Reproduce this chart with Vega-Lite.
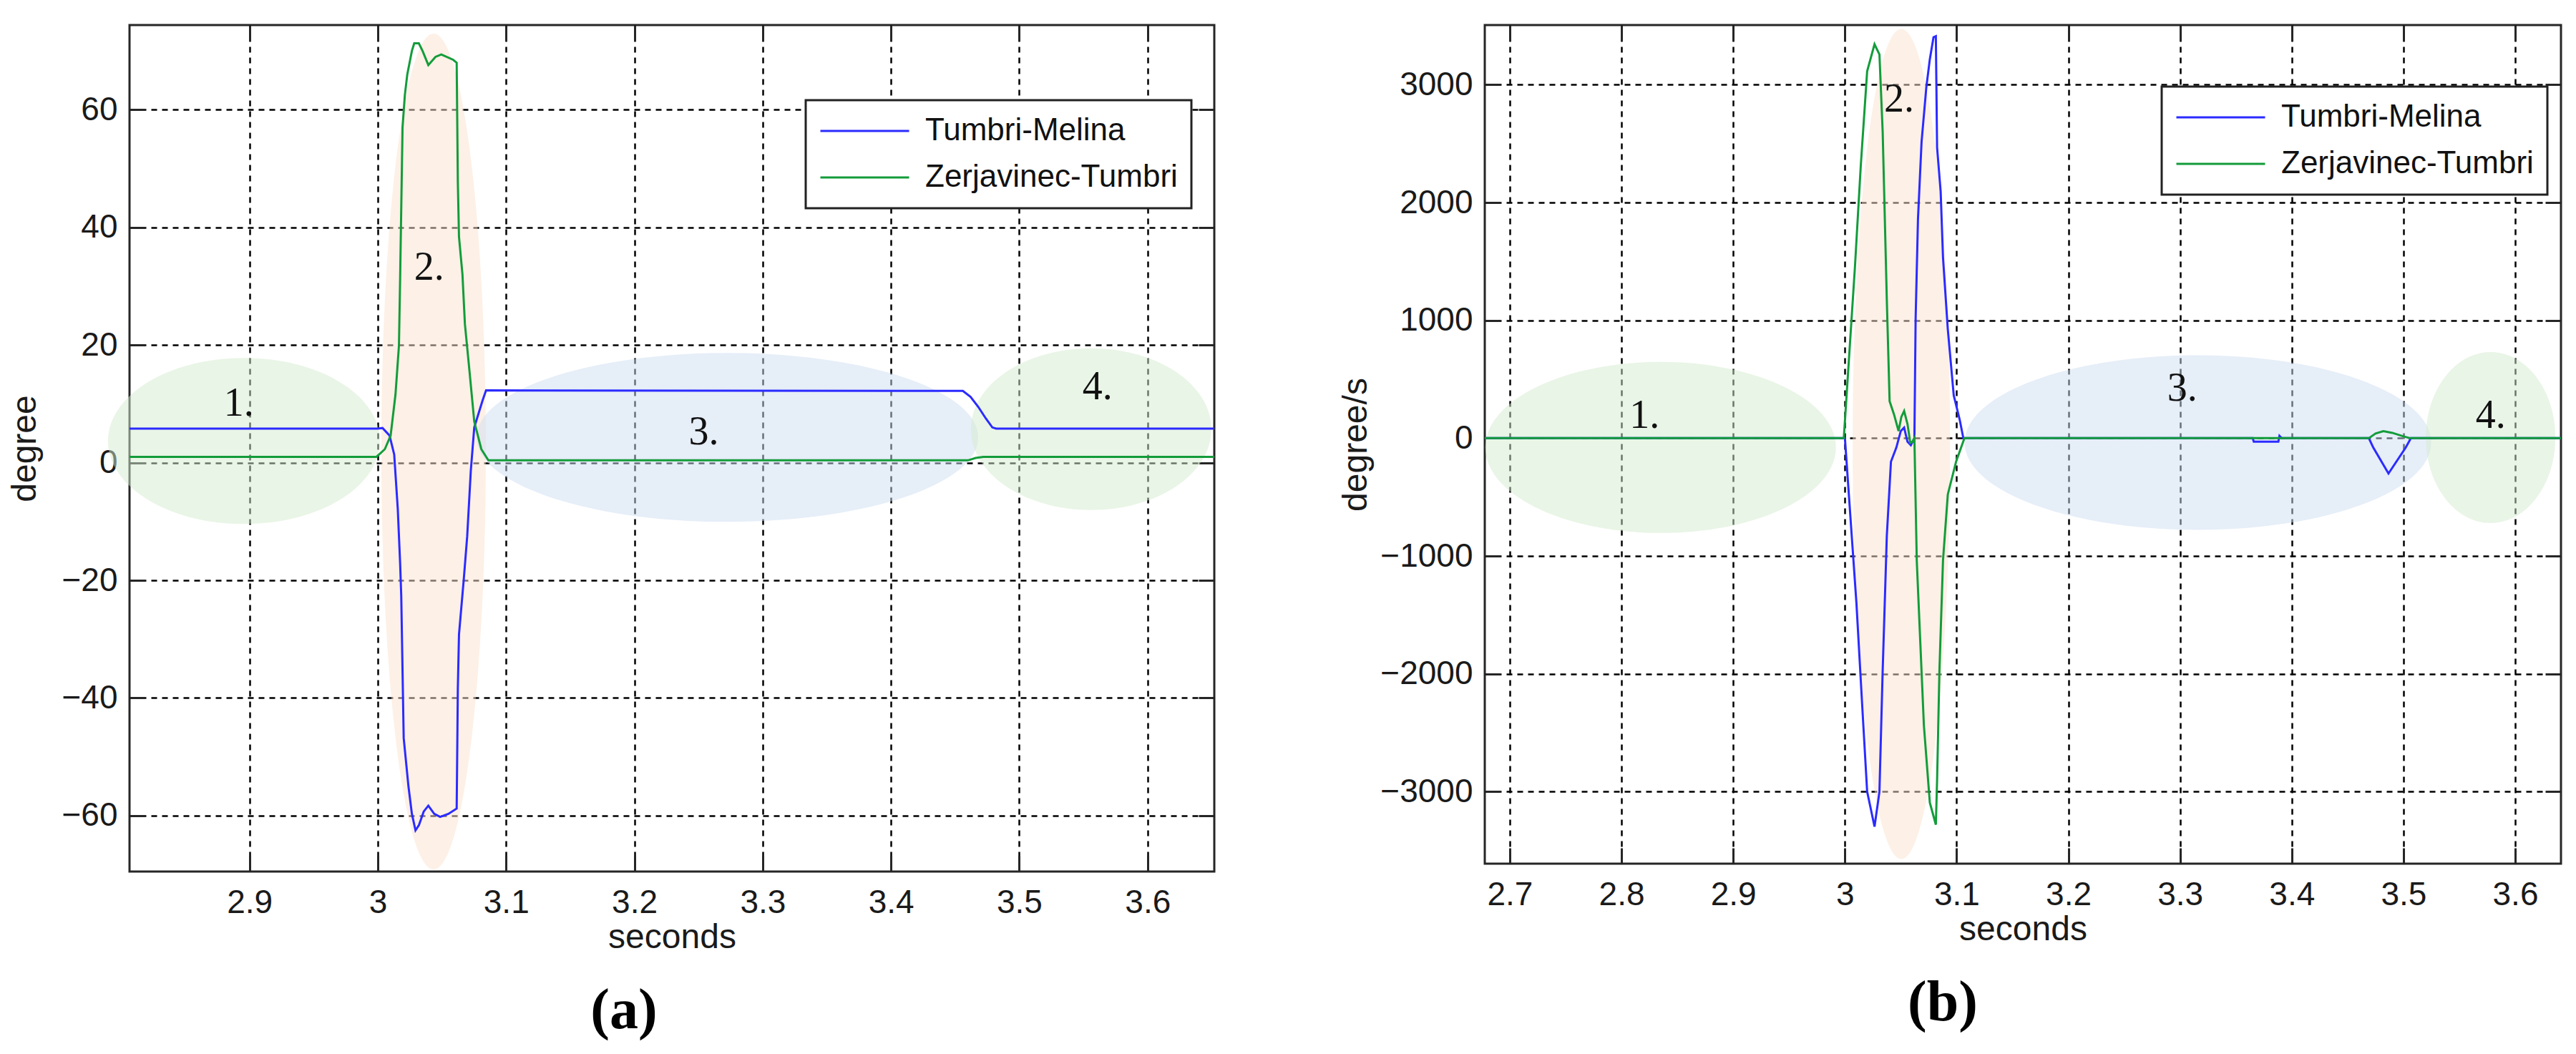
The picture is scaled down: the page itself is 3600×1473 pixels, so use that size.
{
  "$schema": "https://vega.github.io/schema/vega-lite/v6.json",
  "background": "white",
  "padding": {"left": 10, "top": 32, "right": 0, "bottom": 0},
  "spacing": 170,
  "resolve": {"scale": {"color": "independent"}, "legend": {"color": "independent"}},
  "datasets": {
    "angle": [
      {"s": "Tumbri-Melina", "t": 2.80, "v": 5.8},
      {"s": "Tumbri-Melina", "t": 3.000, "v": 5.8},
      {"s": "Tumbri-Melina", "t": 3.0037, "v": 5.9},
      {"s": "Tumbri-Melina", "t": 3.0092, "v": 4.6},
      {"s": "Tumbri-Melina", "t": 3.0128, "v": 1.4},
      {"s": "Tumbri-Melina", "t": 3.0156, "v": -7.9},
      {"s": "Tumbri-Melina", "t": 3.0174, "v": -17},
      {"s": "Tumbri-Melina", "t": 3.0183, "v": -22.7},
      {"s": "Tumbri-Melina", "t": 3.0202, "v": -46.8},
      {"s": "Tumbri-Melina", "t": 3.0239, "v": -55},
      {"s": "Tumbri-Melina", "t": 3.0266, "v": -59.7},
      {"s": "Tumbri-Melina", "t": 3.0294, "v": -62.5},
      {"s": "Tumbri-Melina", "t": 3.0321, "v": -61.6},
      {"s": "Tumbri-Melina", "t": 3.0358, "v": -59.3},
      {"s": "Tumbri-Melina", "t": 3.0394, "v": -58.3},
      {"s": "Tumbri-Melina", "t": 3.044, "v": -59.7},
      {"s": "Tumbri-Melina", "t": 3.0486, "v": -60.2},
      {"s": "Tumbri-Melina", "t": 3.055, "v": -59.7},
      {"s": "Tumbri-Melina", "t": 3.0615, "v": -58.8},
      {"s": "Tumbri-Melina", "t": 3.0624, "v": -38.4},
      {"s": "Tumbri-Melina", "t": 3.0633, "v": -29.2},
      {"s": "Tumbri-Melina", "t": 3.067, "v": -19.9},
      {"s": "Tumbri-Melina", "t": 3.0697, "v": -12.5},
      {"s": "Tumbri-Melina", "t": 3.0725, "v": -1.4},
      {"s": "Tumbri-Melina", "t": 3.0752, "v": 6},
      {"s": "Tumbri-Melina", "t": 3.0817, "v": 10.6},
      {"s": "Tumbri-Melina", "t": 3.0844, "v": 12.3},
      {"s": "Tumbri-Melina", "t": 3.456, "v": 12.2},
      {"s": "Tumbri-Melina", "t": 3.462, "v": 11.2},
      {"s": "Tumbri-Melina", "t": 3.468, "v": 9.5},
      {"s": "Tumbri-Melina", "t": 3.474, "v": 7.5},
      {"s": "Tumbri-Melina", "t": 3.479, "v": 6.0},
      {"s": "Tumbri-Melina", "t": 3.482, "v": 5.8},
      {"s": "Tumbri-Melina", "t": 3.66, "v": 5.8},
      {"s": "Zerjavinec-Tumbri", "t": 2.80, "v": 1.0},
      {"s": "Zerjavinec-Tumbri", "t": 2.999, "v": 1.0},
      {"s": "Zerjavinec-Tumbri", "t": 3.0055, "v": 2.3},
      {"s": "Zerjavinec-Tumbri", "t": 3.010, "v": 4.6},
      {"s": "Zerjavinec-Tumbri", "t": 3.0138, "v": 11.6},
      {"s": "Zerjavinec-Tumbri", "t": 3.0165, "v": 19.9},
      {"s": "Zerjavinec-Tumbri", "t": 3.0174, "v": 31},
      {"s": "Zerjavinec-Tumbri", "t": 3.0193, "v": 57},
      {"s": "Zerjavinec-Tumbri", "t": 3.0211, "v": 62.5},
      {"s": "Zerjavinec-Tumbri", "t": 3.023, "v": 66},
      {"s": "Zerjavinec-Tumbri", "t": 3.0266, "v": 70},
      {"s": "Zerjavinec-Tumbri", "t": 3.0284, "v": 71.3},
      {"s": "Zerjavinec-Tumbri", "t": 3.032, "v": 71.3},
      {"s": "Zerjavinec-Tumbri", "t": 3.0349, "v": 70},
      {"s": "Zerjavinec-Tumbri", "t": 3.0394, "v": 67.6},
      {"s": "Zerjavinec-Tumbri", "t": 3.045, "v": 69},
      {"s": "Zerjavinec-Tumbri", "t": 3.0495, "v": 69.4},
      {"s": "Zerjavinec-Tumbri", "t": 3.0587, "v": 68.5},
      {"s": "Zerjavinec-Tumbri", "t": 3.0615, "v": 68},
      {"s": "Zerjavinec-Tumbri", "t": 3.0624, "v": 47.7},
      {"s": "Zerjavinec-Tumbri", "t": 3.0633, "v": 38.4},
      {"s": "Zerjavinec-Tumbri", "t": 3.066, "v": 32},
      {"s": "Zerjavinec-Tumbri", "t": 3.0679, "v": 23.6},
      {"s": "Zerjavinec-Tumbri", "t": 3.0716, "v": 15.3},
      {"s": "Zerjavinec-Tumbri", "t": 3.0752, "v": 7},
      {"s": "Zerjavinec-Tumbri", "t": 3.0807, "v": 2.3},
      {"s": "Zerjavinec-Tumbri", "t": 3.0862, "v": 0.4},
      {"s": "Zerjavinec-Tumbri", "t": 3.46, "v": 0.4},
      {"s": "Zerjavinec-Tumbri", "t": 3.466, "v": 0.8},
      {"s": "Zerjavinec-Tumbri", "t": 3.472, "v": 1.0},
      {"s": "Zerjavinec-Tumbri", "t": 3.66, "v": 1.0}
    ],
    "rate": [
      {"s": "Tumbri-Melina", "t": 2.67, "v": 0},
      {"s": "Tumbri-Melina", "t": 3.000, "v": 0},
      {"s": "Tumbri-Melina", "t": 3.0103, "v": -1400},
      {"s": "Tumbri-Melina", "t": 3.0154, "v": -2257},
      {"s": "Tumbri-Melina", "t": 3.0199, "v": -3000},
      {"s": "Tumbri-Melina", "t": 3.0265, "v": -3297},
      {"s": "Tumbri-Melina", "t": 3.0309, "v": -3000},
      {"s": "Tumbri-Melina", "t": 3.0338, "v": -1971},
      {"s": "Tumbri-Melina", "t": 3.0375, "v": -829},
      {"s": "Tumbri-Melina", "t": 3.0412, "v": -200},
      {"s": "Tumbri-Melina", "t": 3.046, "v": -80},
      {"s": "Tumbri-Melina", "t": 3.050, "v": 60},
      {"s": "Tumbri-Melina", "t": 3.053, "v": 90},
      {"s": "Tumbri-Melina", "t": 3.056, "v": -30},
      {"s": "Tumbri-Melina", "t": 3.059, "v": -60},
      {"s": "Tumbri-Melina", "t": 3.0622, "v": 0},
      {"s": "Tumbri-Melina", "t": 3.0633, "v": 1019},
      {"s": "Tumbri-Melina", "t": 3.0654, "v": 1860},
      {"s": "Tumbri-Melina", "t": 3.0686, "v": 2514},
      {"s": "Tumbri-Melina", "t": 3.0729, "v": 2981},
      {"s": "Tumbri-Melina", "t": 3.076, "v": 3215},
      {"s": "Tumbri-Melina", "t": 3.0793, "v": 3402},
      {"s": "Tumbri-Melina", "t": 3.0814, "v": 3411},
      {"s": "Tumbri-Melina", "t": 3.0825, "v": 2467},
      {"s": "Tumbri-Melina", "t": 3.0857, "v": 2093},
      {"s": "Tumbri-Melina", "t": 3.0878, "v": 1533},
      {"s": "Tumbri-Melina", "t": 3.0921, "v": 925},
      {"s": "Tumbri-Melina", "t": 3.0974, "v": 364},
      {"s": "Tumbri-Melina", "t": 3.1028, "v": 154},
      {"s": "Tumbri-Melina", "t": 3.106, "v": 0},
      {"s": "Tumbri-Melina", "t": 3.365, "v": 0},
      {"s": "Tumbri-Melina", "t": 3.366, "v": -30},
      {"s": "Tumbri-Melina", "t": 3.388, "v": -30},
      {"s": "Tumbri-Melina", "t": 3.389, "v": 20},
      {"s": "Tumbri-Melina", "t": 3.391, "v": 0},
      {"s": "Tumbri-Melina", "t": 3.469, "v": 0},
      {"s": "Tumbri-Melina", "t": 3.473, "v": -80},
      {"s": "Tumbri-Melina", "t": 3.4866, "v": -300},
      {"s": "Tumbri-Melina", "t": 3.502, "v": -80},
      {"s": "Tumbri-Melina", "t": 3.5067, "v": 0},
      {"s": "Tumbri-Melina", "t": 3.65, "v": 0},
      {"s": "Zerjavinec-Tumbri", "t": 2.67, "v": 0},
      {"s": "Zerjavinec-Tumbri", "t": 2.999, "v": 0},
      {"s": "Zerjavinec-Tumbri", "t": 3.009, "v": 1457},
      {"s": "Zerjavinec-Tumbri", "t": 3.0142, "v": 2314},
      {"s": "Zerjavinec-Tumbri", "t": 3.0199, "v": 3114},
      {"s": "Zerjavinec-Tumbri", "t": 3.0265, "v": 3343},
      {"s": "Zerjavinec-Tumbri", "t": 3.0309, "v": 3257},
      {"s": "Zerjavinec-Tumbri", "t": 3.0338, "v": 2600},
      {"s": "Zerjavinec-Tumbri", "t": 3.0375, "v": 1171},
      {"s": "Zerjavinec-Tumbri", "t": 3.040, "v": 314},
      {"s": "Zerjavinec-Tumbri", "t": 3.044, "v": 200},
      {"s": "Zerjavinec-Tumbri", "t": 3.048, "v": 60},
      {"s": "Zerjavinec-Tumbri", "t": 3.0505, "v": 180},
      {"s": "Zerjavinec-Tumbri", "t": 3.053, "v": 230},
      {"s": "Zerjavinec-Tumbri", "t": 3.056, "v": 120},
      {"s": "Zerjavinec-Tumbri", "t": 3.0585, "v": -40},
      {"s": "Zerjavinec-Tumbri", "t": 3.0605, "v": -30},
      {"s": "Zerjavinec-Tumbri", "t": 3.0622, "v": 0},
      {"s": "Zerjavinec-Tumbri", "t": 3.0643, "v": -1037},
      {"s": "Zerjavinec-Tumbri", "t": 3.0675, "v": -1738},
      {"s": "Zerjavinec-Tumbri", "t": 3.0707, "v": -2439},
      {"s": "Zerjavinec-Tumbri", "t": 3.076, "v": -3093},
      {"s": "Zerjavinec-Tumbri", "t": 3.0814, "v": -3280},
      {"s": "Zerjavinec-Tumbri", "t": 3.0825, "v": -2907},
      {"s": "Zerjavinec-Tumbri", "t": 3.0846, "v": -1972},
      {"s": "Zerjavinec-Tumbri", "t": 3.0878, "v": -1037},
      {"s": "Zerjavinec-Tumbri", "t": 3.0921, "v": -477},
      {"s": "Zerjavinec-Tumbri", "t": 3.0996, "v": -196},
      {"s": "Zerjavinec-Tumbri", "t": 3.1049, "v": -56},
      {"s": "Zerjavinec-Tumbri", "t": 3.107, "v": 0},
      {"s": "Zerjavinec-Tumbri", "t": 3.469, "v": 0},
      {"s": "Zerjavinec-Tumbri", "t": 3.475, "v": 40},
      {"s": "Zerjavinec-Tumbri", "t": 3.482, "v": 60},
      {"s": "Zerjavinec-Tumbri", "t": 3.49, "v": 45},
      {"s": "Zerjavinec-Tumbri", "t": 3.5, "v": 15},
      {"s": "Zerjavinec-Tumbri", "t": 3.506, "v": 0},
      {"s": "Zerjavinec-Tumbri", "t": 3.65, "v": 0}
    ],
    "ellA": [
      {"id": "1", "t": 2.8957, "v": 3.7},
      {"id": "2", "t": 3.0435, "v": 1.9},
      {"id": "3", "t": 3.2725, "v": 4.3},
      {"id": "4", "t": 3.556, "v": 5.7}
    ],
    "ellB": [
      {"id": "1", "t": 2.835, "v": -79},
      {"id": "2", "t": 3.0505, "v": -50},
      {"id": "3", "t": 3.316, "v": -37},
      {"id": "4", "t": 3.578, "v": 5}
    ],
    "lblA": [
      {"label": "1.", "t": 2.8917, "v": 10},
      {"label": "2.", "t": 3.040, "v": 33.2},
      {"label": "3.", "t": 3.254, "v": 5.2},
      {"label": "4.", "t": 3.561, "v": 12.9}
    ],
    "lblB": [
      {"label": "1.", "t": 2.8206, "v": 192},
      {"label": "2.", "t": 3.0485, "v": 2874},
      {"label": "3.", "t": 3.302, "v": 420},
      {"label": "4.", "t": 3.578, "v": 192}
    ]
  },
  "hconcat": [
    {
      "width": 1516,
      "height": 1183,
      "title": {"text": "(a)", "orient": "bottom", "font": "Liberation Serif", "fontSize": 80, "fontWeight": "bold", "color": "#000000", "offset": 40, "dx": -67, "anchor": "middle"},
      "encoding": {
        "x": {"field": "t", "type": "quantitative", "scale": {"domain": [2.8065, 3.652], "nice": false, "zero": false}, "axis": null},
        "y": {"field": "v", "type": "quantitative", "scale": {"domain": [-69.5, 74.4], "nice": false, "zero": false}, "axis": null}
      },
      "layer": [
        {
          "data": {"name": "ellA"},
          "transform": [{"filter": "datum.id == '1'"}],
          "mark": {"type": "point", "filled": true, "fill": "#d3ebcd", "fillOpacity": 0.5, "strokeWidth": 0, "clip": false, "size": 144400,
                   "shape": "M1,0C1,0.3372 0.5523,0.6105 0,0.6105C-0.5523,0.6105 -1,0.3372 -1,0C-1,-0.3372 -0.5523,-0.6105 0,-0.6105C0.5523,-0.6105 1,-0.3372 1,0Z"}
        },
        {
          "data": {"name": "ellA"},
          "transform": [{"filter": "datum.id == '2'"}],
          "mark": {"type": "point", "filled": true, "fill": "#fbe1cd", "fillOpacity": 0.5, "strokeWidth": 0, "clip": false, "size": 21316,
                   "shape": "M1,0C1,4.4184 0.5523,8 0,8C-0.5523,8 -1,4.4184 -1,0C-1,-4.4184 -0.5523,-8 0,-8C0.5523,-8 1,-4.4184 1,0Z"}
        },
        {
          "data": {"name": "ellA"},
          "transform": [{"filter": "datum.id == '3'"}],
          "mark": {"type": "point", "filled": true, "fill": "#cdddf1", "fillOpacity": 0.5, "strokeWidth": 0, "clip": false, "size": 491401,
                   "shape": "M1,0C1,0.186 0.5523,0.3367 0,0.3367C-0.5523,0.3367 -1,0.186 -1,0C-1,-0.186 -0.5523,-0.3367 0,-0.3367C0.5523,-0.3367 1,-0.186 1,0Z"}
        },
        {
          "data": {"name": "ellA"},
          "transform": [{"filter": "datum.id == '4'"}],
          "mark": {"type": "point", "filled": true, "fill": "#d3ebcd", "fillOpacity": 0.5, "strokeWidth": 0, "clip": false, "size": 112896,
                   "shape": "M1,0C1,0.3715 0.5523,0.6726 0,0.6726C-0.5523,0.6726 -1,0.3715 -1,0C-1,-0.3715 -0.5523,-0.6726 0,-0.6726C0.5523,-0.6726 1,-0.3715 1,0Z"}
        },
        {
          "data": {"name": "angle"},
          "mark": {"type": "line", "strokeWidth": 3, "clip": true},
          "encoding": {
            "x": {"field": "t", "type": "quantitative", "scale": {"domain": [2.8065, 3.652], "nice": false, "zero": false},
                  "axis": {"orient": "bottom", "title": "seconds", "grid": true, "format": "~g", "values": [2.9, 3.0, 3.1, 3.2, 3.3, 3.4, 3.5, 3.6]}},
            "y": {"field": "v", "type": "quantitative", "scale": {"domain": [-69.5, 74.4], "nice": false, "zero": false},
                  "axis": {"orient": "left", "title": "degree", "grid": true, "titlePadding": 26, "values": [-60, -40, -20, 0, 20, 40, 60]}},
            "color": {"field": "s", "type": "nominal", "scale": {"domain": ["Tumbri-Melina", "Zerjavinec-Tumbri"], "range": ["#2b2bff", "#139c3a"]},
                      "legend": {"orient": "none", "legendX": 945, "legendY": 105, "title": null}}
          }
        },
        {
          "data": {"name": "lblA"},
          "mark": {"type": "text", "font": "Liberation Serif", "fontSize": 56, "color": "#111111", "align": "center", "baseline": "middle"},
          "encoding": {
            "x": {"field": "t", "type": "quantitative", "scale": {"domain": [2.8065, 3.652], "nice": false, "zero": false},
                  "axis": {"orient": "top", "labels": false, "grid": false, "title": null, "values": [2.9, 3.0, 3.1, 3.2, 3.3, 3.4, 3.5, 3.6]}},
            "y": {"field": "v", "type": "quantitative", "scale": {"domain": [-69.5, 74.4], "nice": false, "zero": false},
                  "axis": {"orient": "right", "labels": false, "grid": false, "title": null, "values": [-60, -40, -20, 0, 20, 40, 60]}},
            "text": {"field": "label", "type": "nominal"}
          }
        }
      ],
      "resolve": {"axis": {"x": "independent", "y": "independent"}}
    },
    {
      "width": 1504,
      "height": 1172,
      "title": {"text": "(b)", "orient": "bottom", "font": "Liberation Serif", "fontSize": 80, "fontWeight": "bold", "color": "#000000", "offset": 40, "dx": -112, "anchor": "middle"},
      "encoding": {
        "x": {"field": "t", "type": "quantitative", "scale": {"domain": [2.6776, 3.641], "nice": false, "zero": false}, "axis": null},
        "y": {"field": "v", "type": "quantitative", "scale": {"domain": [-3611, 3506], "nice": false, "zero": false}, "axis": null}
      },
      "layer": [
        {
          "data": {"name": "ellB"},
          "transform": [{"filter": "datum.id == '1'"}],
          "mark": {"type": "point", "filled": true, "fill": "#d3ebcd", "fillOpacity": 0.5, "strokeWidth": 0, "clip": false, "size": 240100,
                   "shape": "M1,0C1,0.2694 0.5523,0.4878 0,0.4878C-0.5523,0.4878 -1,0.2694 -1,0C-1,-0.2694 -0.5523,-0.4878 0,-0.4878C0.5523,-0.4878 1,-0.2694 1,0Z"}
        },
        {
          "data": {"name": "ellB"},
          "transform": [{"filter": "datum.id == '2'"}],
          "mark": {"type": "point", "filled": true, "fill": "#fbe1cd", "fillOpacity": 0.5, "strokeWidth": 0, "clip": false, "size": 18496,
                   "shape": "M1,0C1,4.711 0.5523,8.529 0,8.529C-0.5523,8.529 -1,4.711 -1,0C-1,-4.711 -0.5523,-8.529 0,-8.529C0.5523,-8.529 1,-4.711 1,0Z"}
        },
        {
          "data": {"name": "ellB"},
          "transform": [{"filter": "datum.id == '3'"}],
          "mark": {"type": "point", "filled": true, "fill": "#cdddf1", "fillOpacity": 0.5, "strokeWidth": 0, "clip": false, "size": 425104,
                   "shape": "M1,0C1,0.2067 0.5523,0.3742 0,0.3742C-0.5523,0.3742 -1,0.2067 -1,0C-1,-0.2067 -0.5523,-0.3742 0,-0.3742C0.5523,-0.3742 1,-0.2067 1,0Z"}
        },
        {
          "data": {"name": "ellB"},
          "transform": [{"filter": "datum.id == '4'"}],
          "mark": {"type": "point", "filled": true, "fill": "#d3ebcd", "fillOpacity": 0.5, "strokeWidth": 0, "clip": false, "size": 32761,
                   "shape": "M1,0C1,0.7293 0.5523,1.3204 0,1.3204C-0.5523,1.3204 -1,0.7293 -1,0C-1,-0.7293 -0.5523,-1.3204 0,-1.3204C0.5523,-1.3204 1,-0.7293 1,0Z"}
        },
        {
          "data": {"name": "rate"},
          "mark": {"type": "line", "strokeWidth": 3, "clip": true},
          "encoding": {
            "x": {"field": "t", "type": "quantitative", "scale": {"domain": [2.6776, 3.641], "nice": false, "zero": false},
                  "axis": {"orient": "bottom", "title": "seconds", "grid": true, "format": "~g", "values": [2.7, 2.8, 2.9, 3.0, 3.1, 3.2, 3.3, 3.4, 3.5, 3.6]}},
            "y": {"field": "v", "type": "quantitative", "scale": {"domain": [-3611, 3506], "nice": false, "zero": false},
                  "axis": {"orient": "left", "title": "degree/s", "grid": true, "titlePadding": 9, "format": "d", "values": [-3000, -2000, -1000, 0, 1000, 2000, 3000]}},
            "color": {"field": "s", "type": "nominal", "scale": {"domain": ["Tumbri-Melina", "Zerjavinec-Tumbri"], "range": ["#2b2bff", "#139c3a"]},
                      "legend": {"orient": "none", "legendX": 946, "legendY": 86, "title": null}}
          }
        },
        {
          "data": {"name": "lblB"},
          "mark": {"type": "text", "font": "Liberation Serif", "fontSize": 56, "color": "#111111", "align": "center", "baseline": "middle"},
          "encoding": {
            "x": {"field": "t", "type": "quantitative", "scale": {"domain": [2.6776, 3.641], "nice": false, "zero": false},
                  "axis": {"orient": "top", "labels": false, "grid": false, "title": null, "values": [2.7, 2.8, 2.9, 3.0, 3.1, 3.2, 3.3, 3.4, 3.5, 3.6]}},
            "y": {"field": "v", "type": "quantitative", "scale": {"domain": [-3611, 3506], "nice": false, "zero": false},
                  "axis": {"orient": "right", "labels": false, "grid": false, "title": null, "values": [-3000, -2000, -1000, 0, 1000, 2000, 3000]}},
            "text": {"field": "label", "type": "nominal"}
          }
        }
      ],
      "resolve": {"axis": {"x": "independent", "y": "independent"}}
    }
  ],
  "config": {
    "view": {"stroke": "#262626", "strokeWidth": 3},
    "axis": {
      "domain": false, "grid": true, "gridColor": "#000000", "gridDash": [8, 7], "gridWidth": 2.5, "gridOpacity": 1,
      "ticks": true, "tickColor": "#262626", "tickWidth": 3, "tickSize": -22,
      "labelFont": "Liberation Sans, Arial, sans-serif", "labelFontSize": 46, "labelColor": "#1a1a1a",
      "titleFont": "Liberation Sans, Arial, sans-serif", "titleFontSize": 48, "titleFontWeight": "normal", "titleColor": "#1a1a1a",
      "labelFlush": false, "labelOverlap": false
    },
    "axisX": {"labelPadding": 43, "titlePadding": 2},
    "axisY": {"labelPadding": 39},
    "legend": {
      "symbolType": "stroke", "symbolSize": 15376, "symbolStrokeWidth": 3,
      "labelFont": "Liberation Sans, Arial, sans-serif", "labelFontSize": 44, "labelColor": "#111111", "labelOffset": 21, "labelLimit": 1000,
      "padding": 19, "rowPadding": 17, "clipHeight": 48,
      "strokeColor": "#222222", "strokeWidth": 3, "fillColor": "#ffffff"
    }
  }
}
